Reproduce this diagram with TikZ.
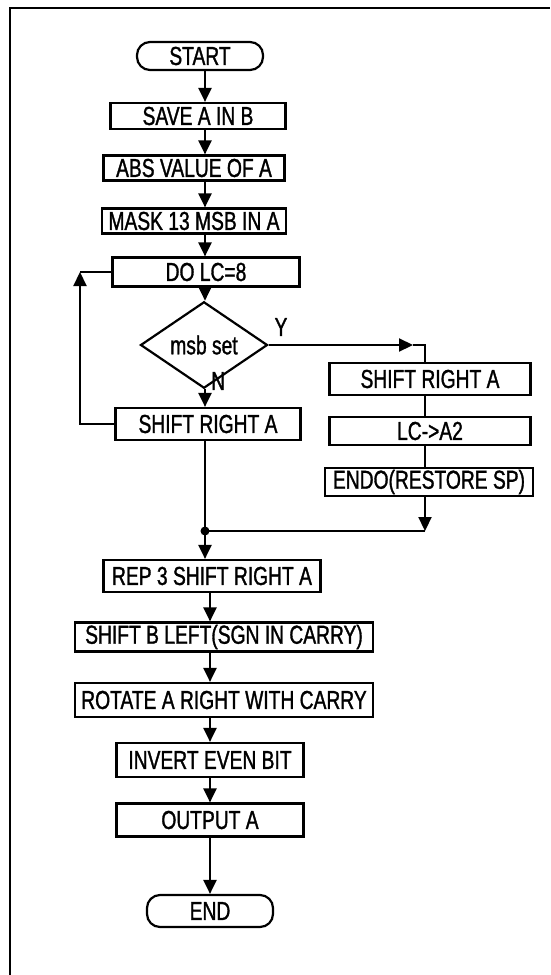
\documentclass[tikz,border=0pt]{standalone}
\usepackage{fontspec}
\setmainfont{Liberation Sans}[FakeStretch=0.74,FakeBold=1.2]
\usetikzlibrary{arrows.meta,shapes.geometric}
\begin{document}
\begin{tikzpicture}[x=1pt,y=-1pt,
  every node/.style={font=\fontsize{26}{28}\selectfont, inner sep=0pt},
  box/.style={draw, line width=2.2pt, rectangle},
  term/.style={draw, line width=2.2pt, rectangle, rounded corners=13pt},
  cond/.style={draw, line width=2.2pt, diamond},
  conn/.style={line width=2.2pt},
  arr/.style={line width=2.2pt, -{Triangle[length=14pt,width=13pt]}},
  lbl/.style={font=\fontsize{26}{28}\selectfont}
]
\useasboundingbox (0,0) rectangle (550,975);
\fill[white] (0,0) rectangle (550,975);
% frame
\draw[line width=2.4pt] (10,975) -- (10,8) -- (550,8);

% main column
\node[term, minimum width=126pt, minimum height=28pt] (start) at (200,56) {START};
\node[box, minimum width=175pt, minimum height=26pt] (save) at (198,116) {SAVE A IN B};
\node[box, minimum width=181pt, minimum height=25pt] (abs) at (194,168) {ABS VALUE OF A};
\node[box, minimum width=184pt, minimum height=25pt] (mask) at (194,221) {MASK 13 MSB IN A};
\node[box, minimum width=187pt, minimum height=29pt] (do) at (206,272) {DO LC=8};
\node[cond, minimum width=127pt, minimum height=44pt] (msb) at (204,345) {msb set};
\node[box, minimum width=185pt, minimum height=32pt] (lshift) at (208,424) {SHIFT RIGHT A};

% right column
\node[box, minimum width=201pt, minimum height=32pt] (rshift) at (430,379) {SHIFT RIGHT A};
\node[box, minimum width=201pt, minimum height=28pt] (lc) at (430,431) {LC->A2};
\node[box, minimum width=208pt, minimum height=28pt] (endo) at (429,482) {ENDO(RESTORE SP)};

% lower column
\node[box, minimum width=217pt, minimum height=32pt] (rep) at (212,576) {REP 3 SHIFT RIGHT A};
\node[box, minimum width=298pt, minimum height=29pt] (shiftb) at (224,637) {SHIFT B LEFT(SGN IN CARRY)};
\node[box, minimum width=298pt, minimum height=34pt] (rot) at (224,700) {ROTATE A RIGHT WITH CARRY};
\node[box, minimum width=187pt, minimum height=34pt] (inv) at (210,760) {INVERT EVEN BIT};
\node[box, minimum width=187pt, minimum height=33pt] (out) at (210,820) {OUTPUT A};
\node[term, minimum width=126pt, minimum height=32pt] (end) at (210,911) {END};

% column coordinates
\coordinate (ca) at (205,0);
\coordinate (cb) at (210,0);
\coordinate (cr) at (425,0);
\coordinate (loopc) at (80,272);
\coordinate (yarr) at (413,345);
\coordinate (ycorner) at (425,345);
\coordinate (jr) at (425,531);
\coordinate (junc) at (205,531);

% upper arrows
\draw[arr] (start.south -| ca) -- (save.north -| ca);
\draw[arr] (save.south -| ca) -- (abs.north -| ca);
\draw[arr] (abs.south -| ca) -- (mask.north -| ca);
\draw[arr] (mask.south -| ca) -- (do.north -| ca);
\draw[arr] (do.south -| ca) -- (msb.north -| ca);
\draw[arr] (msb.south -| ca) -- (lshift.north -| ca);
\node[lbl, anchor=west] (nlbl) at (211,381) {N};

% loop back
\draw[arr] (lshift.west) -| (loopc);
\draw[conn] (loopc) -- (do.west);

% yes branch
\draw[arr] (msb.east) -- (yarr);
\draw[conn] (yarr) -- (ycorner) -- (rshift.north -| cr);
\node[lbl] (ylbl) at (281,327) {Y};
\draw[conn] (rshift.south -| cr) -- (lc.north -| cr);
\draw[conn] (lc.south -| cr) -- (endo.north -| cr);
\draw[arr] (endo.south -| cr) -- (jr);
\draw[conn] (jr) -- (junc);
\draw[conn] (lshift.south -| ca) -- (junc);
\fill (junc) circle (4.5pt);
\draw[arr] (junc) -- (rep.north -| ca);

% lower arrows
\draw[arr] (rep.south -| cb) -- (shiftb.north -| cb);
\draw[arr] (shiftb.south -| cb) -- (rot.north -| cb);
\draw[arr] (rot.south -| cb) -- (inv.north -| cb);
\draw[arr] (inv.south -| cb) -- (out.north -| cb);
\draw[arr] (out.south -| cb) -- (end.north -| cb);
\end{tikzpicture}
\end{document}
